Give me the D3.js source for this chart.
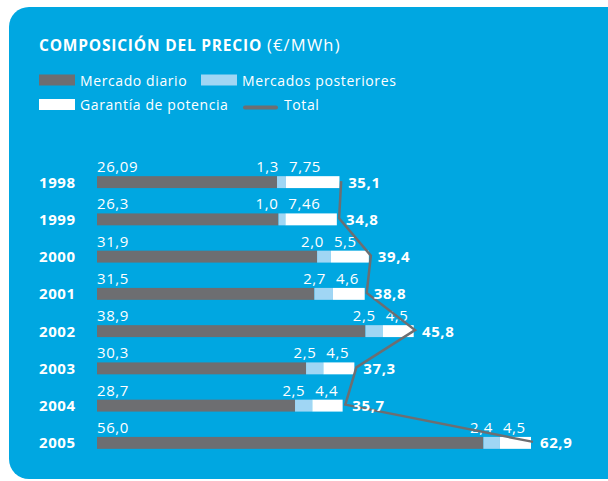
<!DOCTYPE html>
<html>
<head>
<meta charset="utf-8">
<script src="https://cdn.jsdelivr.net/npm/d3@7"></script>
<style>
  html, body { margin: 0; padding: 0; background: #ffffff; }
  svg { display: block; }
  text { font-family: "Open Sans", "Noto Sans", sans-serif; fill: #ffffff; letter-spacing: 0.6px; }
</style>
</head>
<body>
<script>
// Price composition (€/MWh) by year
const years = ["1998", "1999", "2000", "2001", "2002", "2003", "2004", "2005"];
const mercadoDiario = [26.09, 26.3, 31.9, 31.5, 38.9, 30.3, 28.7, 56.0];
const mercadosPosteriores = [1.3, 1.0, 2.0, 2.7, 2.5, 2.5, 2.5, 2.4];
const garantiaPotencia = [7.75, 7.46, 5.5, 4.6, 4.5, 4.5, 4.4, 4.5];
const totals = [35.1, 34.8, 39.4, 38.8, 45.8, 37.3, 35.7, 62.9];

const diarioLabels = ["26,09", "26,3", "31,9", "31,5", "38,9", "30,3", "28,7", "56,0"];
const posterioresLabels = ["1,3", "1,0", "2,0", "2,7", "2,5", "2,5", "2,5", "2,4"];
const garantiaLabels = ["7,75", "7,46", "5,5", "4,6", "4,5", "4,5", "4,4", "4,5"];
const totalLabels = ["35,1", "34,8", "39,4", "38,8", "45,8", "37,3", "35,7", "62,9"];

const seriesKeys = ["diario", "posteriores", "garantia"];
const seriesNames = ["Mercado diario", "Mercados posteriores", "Garantía de potencia"];

const W = 608, H = 481;
const C = { bg: "#00a7e1", gray: "#6d6e71", light: "#a0d6f4", white: "#ffffff" };
const colors = [C.gray, C.light, C.white];

const svg = d3.select("body").append("svg").attr("width", W).attr("height", H);

// card
svg.append("rect").attr("x", 9).attr("y", 7).attr("width", 620).attr("height", 472)
  .attr("rx", 20).attr("ry", 20).attr("fill", C.bg);

// title
const title = svg.append("text").attr("x", 39).attr("y", 51);
title.append("tspan").attr("font-weight", 700).style("font-size", "15.5px").style("letter-spacing", "0.8px")
  .text("COMPOSICIÓN DEL PRECIO ");
title.append("tspan").attr("font-weight", 400).style("font-size", "16.5px").style("letter-spacing", "1.2px")
  .text("(€/MWh)");

// legend
const legend = [
  { name: seriesNames[0], color: colors[0], x: 39, y: 80, type: "rect" },
  { name: seriesNames[1], color: colors[1], x: 201, y: 80, type: "rect" },
  { name: seriesNames[2], color: colors[2], x: 39, y: 104.5, type: "rect" },
  { name: "Total", color: C.gray, x: 243, y: 104.5, type: "line" }
];
legend.forEach(l => {
  if (l.type === "rect") {
    svg.append("rect").attr("x", l.x).attr("y", l.y - 5.5).attr("width", 36).attr("height", 11).attr("fill", l.color);
  } else {
    svg.append("line").attr("x1", l.x + 2).attr("x2", l.x + 33).attr("y1", l.y + 3).attr("y2", l.y + 3)
      .attr("stroke", l.color).attr("stroke-width", 4).attr("stroke-linecap", "round");
  }
  svg.append("text").attr("x", l.x + 41).attr("y", l.y + 5.5).style("font-size", "14px").text(l.name);
});

// scales
const x = d3.scaleLinear().domain([0, 62.9]).range([97, 531]);
const y = d3.scaleBand().domain(years).range([163.5, 461.5]).paddingInner(0.68).paddingOuter(0.34);
const bh = y.bandwidth();
const yc = d => y(d) + bh / 2;

const rows = years.map((yr, i) => ({
  year: yr,
  diario: mercadoDiario[i],
  posteriores: mercadosPosteriores[i],
  garantia: garantiaPotencia[i],
  total: totals[i], i
}));
const stacked = d3.stack().keys(seriesKeys)(rows);

stacked.forEach((s, k) => {
  svg.append("g").selectAll("rect").data(s).join("rect")
    .attr("x", d => x(d[0]))
    .attr("width", d => x(d[1]) - x(d[0]))
    .attr("y", d => y(d.data.year))
    .attr("height", bh)
    .attr("fill", colors[k]);
});

// year labels
svg.append("g").selectAll("text").data(rows).join("text")
  .attr("x", 39).attr("y", d => yc(d.year) + 5.5)
  .attr("font-weight", 700).style("font-size", "15px").text(d => d.year);

// component labels above bars
const lab = svg.append("g").style("font-size", "15px");
rows.forEach(d => {
  const top = y(d.year) - 4;
  const wStart = x(d.diario + d.posteriores);
  lab.append("text").attr("x", x(0)).attr("y", top).text(diarioLabels[d.i]);
  lab.append("text").attr("x", wStart - 7).attr("y", top).attr("text-anchor", "end").text(posterioresLabels[d.i]);
  lab.append("text").attr("x", wStart + 3).attr("y", top).text(garantiaLabels[d.i]);
});

// total line
const line = d3.line().x(d => x(d.total) + 2).y(d => yc(d.year) - 1);
svg.append("path").datum(rows).attr("d", line).attr("fill", "none")
  .attr("stroke", C.gray).attr("stroke-width", 2.5).attr("stroke-linejoin", "miter");

// total labels
svg.append("g").selectAll("text").data(rows).join("text")
  .attr("x", d => x(d.total) + 9).attr("y", d => yc(d.year) + 5.5)
  .attr("font-weight", 700).style("font-size", "15px").text(d => totalLabels[d.i]);
</script>
</body>
</html>
